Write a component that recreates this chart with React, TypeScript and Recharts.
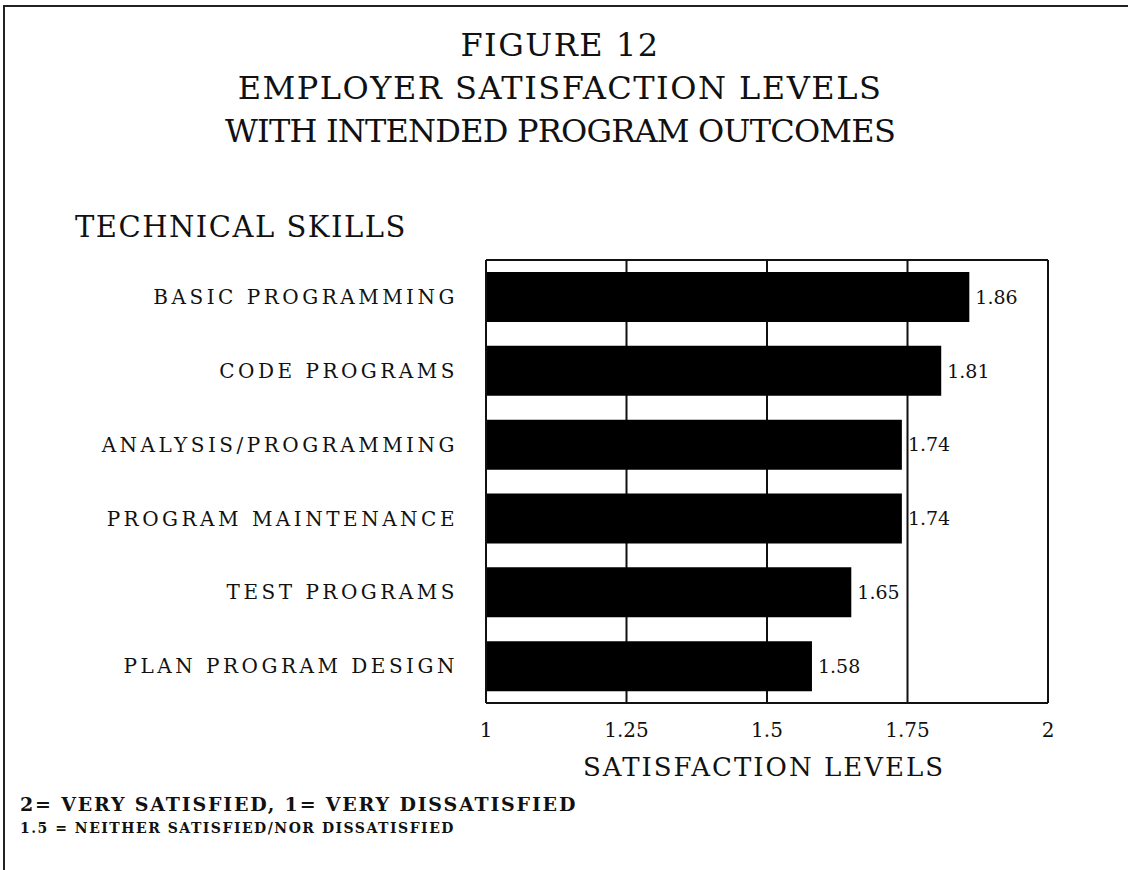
import { BarChart, Bar, XAxis, YAxis, CartesianGrid, LabelList } from 'recharts';

const skills = [
  'BASIC PROGRAMMING',
  'CODE PROGRAMS',
  'ANALYSIS/PROGRAMMING',
  'PROGRAM MAINTENANCE',
  'TEST PROGRAMS',
  'PLAN PROGRAM DESIGN',
];
const levels = [1.86, 1.81, 1.74, 1.74, 1.65, 1.58];
const xTicks = [1, 1.25, 1.5, 1.75, 2];

const data = skills.map((skill, i) => ({ skill, level: levels[i] }));

const font = '"DejaVu Serif", serif';

export default function App() {
  return (
    <div
      style={{
        position: 'absolute',
        left: 0,
        top: 0,
        width: 1128,
        height: 870,
        background: '#fff',
        fontFamily: font,
        color: '#111',
        overflow: 'hidden',
      }}
    >
      {/* scan border */}
      <div style={{ position: 'absolute', left: 3, top: 5, width: 1200, height: 900, borderLeft: '2px solid #222', borderTop: '2px solid #222' }} />

      <div style={{ position: 'absolute', left: 0, width: 1120, top: 24, textAlign: 'center', fontSize: 32, lineHeight: '43px', letterSpacing: 1.5 }}>
        <div>FIGURE 12</div>
        <div>EMPLOYER SATISFACTION LEVELS</div>
        <div style={{ letterSpacing: -0.8 }}>WITH INTENDED PROGRAM OUTCOMES</div>
      </div>

      <div style={{ position: 'absolute', left: 75, top: 210, fontSize: 29, letterSpacing: 1.5 }}>
        TECHNICAL SKILLS
      </div>

      <BarChart
        width={1128}
        height={870}
        data={data}
        layout="vertical"
        margin={{ top: 258, right: 80, bottom: 127, left: 186 }}
        barCategoryGap={12}
      >
        <CartesianGrid horizontal={false} stroke="#111" strokeWidth={2} />
        <XAxis
          type="number"
          dataKey="level"
          domain={[1, 2]}
          ticks={xTicks}
          allowDataOverflow
          height={40}
          axisLine={{ stroke: '#111', strokeWidth: 2 }}
          tickLine={false}
          tick={{ fill: '#111', fontSize: 20, fontFamily: font }}
          tickMargin={14}
        />
        <XAxis
          xAxisId="top"
          type="number"
          orientation="top"
          domain={[1, 2]}
          height={2}
          tick={false}
          tickLine={false}
          axisLine={{ stroke: '#111', strokeWidth: 2 }}
        />
        <YAxis
          type="category"
          dataKey="skill"
          width={300}
          axisLine={{ stroke: '#111', strokeWidth: 2 }}
          tickLine={false}
          tickMargin={22}
          tick={{ fill: '#111', fontSize: 20, fontFamily: font, letterSpacing: 3.5 }}
        />
        <Bar dataKey="level" fill="#000" isAnimationActive={false}>
          <LabelList dataKey="level" position="right" offset={6} fill="#111" fontSize={19} fontFamily={font} />
        </Bar>
      </BarChart>

      <div style={{ position: 'absolute', left: 0, width: 1528, top: 752, textAlign: 'center', fontSize: 26, letterSpacing: 2 }}>
        SATISFACTION LEVELS
      </div>

      <div style={{ position: 'absolute', left: 20, top: 792, fontWeight: 'bold', lineHeight: '24px' }}>
        <div style={{ fontSize: 19, letterSpacing: 1.8 }}>2= VERY SATISFIED, 1= VERY DISSATISFIED</div>
        <div style={{ fontSize: 14, letterSpacing: 1.5 }}>1.5 = NEITHER SATISFIED/NOR DISSATISFIED</div>
      </div>
    </div>
  );
}
